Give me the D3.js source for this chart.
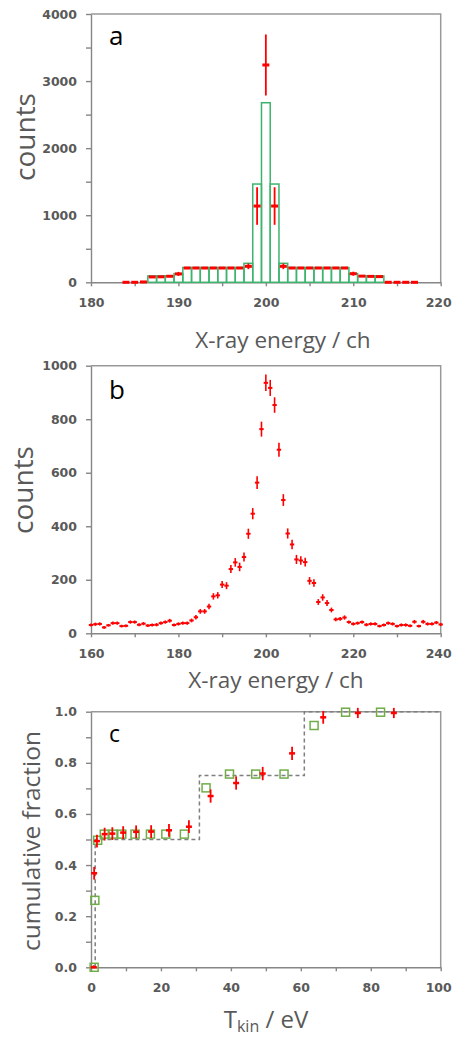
<!DOCTYPE html>
<html lang="en">
<head>
<meta charset="UTF-8">
<title>X-ray energy spectra and cumulative fraction</title>
<script src="https://d3js.org/d3.v7.min.js"></script>
<style>
    body { margin: 0; background: #fff; }
    .tick text { font-family: "DejaVu Sans", sans-serif; font-weight: bold; font-size: 12.5px; fill: #595959; }
    .tick line, .domain { stroke: #868686; stroke-width: 1.4; }
    .title { font-family: "Open Sans", sans-serif; fill: #595959; }
    .letter { font-family: "Open Sans", sans-serif; fill: #000; }
</style>
</head>
<body>
<div id="chart"></div>
<script>
    // ---- panel a: measured counts (red) and simulated histogram (green)
    const aChannels = [184, 185, 186, 187, 188, 189, 190, 191, 192, 193, 194, 195, 196, 197, 198, 199, 200,
        201, 202, 203, 204, 205, 206, 207, 208, 209, 210, 211, 212, 213, 214, 215, 216, 217];
    const aCounts = [0, 0, 5, 80, 82, 90, 125, 213, 213, 213, 213, 213, 213, 213, 238, 1137, 3240,
        1137, 238, 213, 213, 213, 213, 213, 213, 213, 128, 92, 88, 85, 0, 0, 0, 0];
    const aErr = [5, 10, 10, 10, 10, 10, 30, 8, 8, 8, 8, 8, 8, 8, 42, 280, 455,
        280, 42, 8, 8, 8, 8, 8, 8, 8, 30, 10, 10, 10, 5, 5, 5, 5];
    const aBins = [187, 188, 189, 190, 191, 192, 193, 194, 195, 196, 197, 198, 199, 200,
        201, 202, 203, 204, 205, 206, 207, 208, 209, 210, 211, 212, 213];
    const aBinCounts = [95, 95, 95, 130, 220, 220, 220, 220, 220, 220, 220, 283, 1465, 2677,
        1465, 283, 220, 220, 220, 220, 220, 220, 220, 130, 95, 95, 95];

    // ---- panel b: measured spectrum
    const bChannels = d3.range(160, 241);
    const bCounts = [31, 34, 35, 22, 30, 38, 38, 27, 28, 42, 42, 32, 36, 29, 31, 32, 38, 42, 47, 31,
        35, 38, 38, 48, 60, 82, 82, 100, 138, 142, 182, 178, 240, 265, 248, 285, 372, 447, 563, 763,
        936, 917, 853, 686, 498, 373, 332, 276, 272, 266, 196, 188, 117, 134, 113, 87, 52, 54, 59, 42,
        35, 38, 42, 32, 35, 35, 27, 31, 38, 35, 27, 31, 31, 28, 43, 27, 43, 35, 35, 40, 33];
    const bErr = [6, 6, 6, 5, 5, 6, 6, 5, 5, 6, 6, 6, 6, 5, 6, 6, 6, 6, 7, 6,
        6, 6, 6, 7, 8, 9, 9, 10, 12, 12, 13, 13, 15, 16, 16, 17, 19, 21, 24, 28,
        31, 30, 29, 26, 22, 19, 18, 17, 16, 16, 14, 14, 11, 12, 11, 9, 7, 7, 8, 6,
        6, 6, 6, 6, 6, 6, 5, 6, 6, 6, 5, 6, 6, 5, 7, 5, 7, 6, 6, 6, 6];

    // ---- panel c: cumulative fraction vs kinetic energy
    const cSimT = [0.9, 1.1, 1.9, 3.8, 6.3, 8.8, 12.6, 17.0, 21.4, 26.7, 32.9, 39.6, 47.1, 55.2, 63.8, 72.8, 82.8];
    const cSimF = [0.0, 0.262, 0.497, 0.521, 0.521, 0.521, 0.521, 0.521, 0.521, 0.521, 0.702, 0.756, 0.756, 0.756, 0.946, 0.998, 0.998];
    const cExpT = [0.8, 0.9, 1.7, 3.9, 6.1, 9.2, 12.9, 17.2, 22.3, 28.0, 34.2, 41.5, 49.1, 57.5, 66.4, 76.3, 86.6];
    const cExpF = [0.0, 0.368, 0.494, 0.521, 0.523, 0.527, 0.53, 0.531, 0.536, 0.55, 0.670, 0.721, 0.758, 0.837, 0.978, 0.995, 0.995];
    const cExpErr = [0.008, 0.025, 0.025, 0.025, 0.025, 0.025, 0.025, 0.025, 0.025, 0.025, 0.026, 0.026, 0.026, 0.026, 0.025, 0.02, 0.02];
    const stepT = [1.2, 1.2, 31, 31, 61, 61, 100];
    const stepF = [0, 0.5, 0.5, 0.75, 0.75, 1, 1];

    const red = "#ff0000", green = "#3cb46e", lightGreen = "#70ad47";

    const svg = d3.select("#chart").append("svg")
        .attr("width", 453)
        .attr("height", 1039)
        .style("display", "block");

    // draws axes + frame, returns scales and group
    function panel(opt) {
        const x = d3.scaleLinear().domain(opt.xDomain).range([91, 440.7]);
        const y = d3.scaleLinear().domain(opt.yDomain).range([opt.bottom, opt.top]);
        const g = svg.append("g");

        // frame (top and right)
        g.append("path")
            .attr("d", `M${x.range()[0]},${opt.top}H${x.range()[1]}V${opt.bottom}`)
            .attr("fill", "none")
            .attr("stroke", "#999")
            .attr("stroke-width", 1.5);

        const xAxis = g.append("g")
            .attr("transform", `translate(0,${opt.bottom})`)
            .call(d3.axisBottom(x).tickValues(opt.xTicks).tickSize(4).tickPadding(12).tickSizeOuter(0)
                .tickFormat(d => opt.xLabels.includes(d) ? d : ""));
        // last label sits at the right edge of the page, nudge it in a little
        xAxis.selectAll(".tick text")
            .filter(d => d === opt.xDomain[1])
            .attr("dx", -2.5);

        g.append("g")
            .attr("transform", "translate(91,0)")
            .call(d3.axisLeft(y).tickValues(opt.yTicks).tickSize(5).tickPadding(9).tickSizeOuter(0)
                .tickFormat(d => opt.yLabels.some(v => Math.abs(v - d) < 1e-9) ? opt.yFmt(d) : ""));

        g.append("text")
            .attr("class", "title")
            .attr("x", opt.xTitleX)
            .attr("y", opt.xTitleY)
            .attr("text-anchor", "middle")
            .style("font-size", "22.5px")
            .text(opt.xTitle);

        g.append("text")
            .attr("class", "title")
            .attr("transform", `translate(${opt.yTitleX},${opt.yTitleY}) rotate(-90)`)
            .attr("text-anchor", "middle")
            .style("font-size", opt.yTitleSize)
            .text(opt.yTitle);

        g.append("text")
            .attr("class", "letter")
            .attr("x", 109)
            .attr("y", opt.letterY)
            .style("font-size", opt.letterSize)
            .text(opt.letter);

        return {x, y, g};
    }

    // ---------------- panel a
    const A = panel({
        xDomain: [180, 220], yDomain: [0, 4000], top: 14, bottom: 282.3,
        xTicks: d3.range(180, 221, 5), xLabels: [180, 190, 200, 210, 220],
        yTicks: d3.range(0, 4001, 500), yLabels: [0, 1000, 2000, 3000, 4000], yFmt: d => d,
        xTitle: "X-ray energy  / ch", xTitleX: 283, xTitleY: 348,
        yTitle: "counts", yTitleX: 35, yTitleY: 137, yTitleSize: "28px",
        letter: "a", letterY: 45, letterSize: "26px"
    });

    A.g.append("g").selectAll("rect")
        .data(aBins)
        .join("rect")
        .attr("x", d => A.x(d - 0.5))
        .attr("width", A.x(181) - A.x(180))
        .attr("y", (d, i) => A.y(aBinCounts[i]))
        .attr("height", (d, i) => A.y(0) - A.y(aBinCounts[i]))
        .attr("fill", "none")
        .attr("stroke", green)
        .attr("stroke-width", 1.5);

    const aPts = A.g.append("g").selectAll("g")
        .data(aChannels)
        .join("g");
    aPts.append("line")
        .attr("x1", d => A.x(d)).attr("x2", d => A.x(d))
        .attr("y1", (d, i) => A.y(aCounts[i] + aErr[i]))
        .attr("y2", (d, i) => A.y(Math.max(0, aCounts[i] - aErr[i])))
        .attr("stroke", red).attr("stroke-width", 1.8);
    aPts.append("line")
        .attr("x1", d => A.x(d - 0.4)).attr("x2", d => A.x(d + 0.4))
        .attr("y1", (d, i) => A.y(aCounts[i]))
        .attr("y2", (d, i) => A.y(aCounts[i]))
        .attr("stroke", red).attr("stroke-width", 3);

    // ---------------- panel b
    const B = panel({
        xDomain: [160, 240], yDomain: [0, 1000], top: 365.7, bottom: 633.3,
        xTicks: d3.range(160, 241, 10), xLabels: [160, 180, 200, 220, 240],
        yTicks: d3.range(0, 1001, 200), yLabels: d3.range(0, 1001, 200), yFmt: d => d,
        xTitle: "X-ray energy / ch", xTitleX: 276, xTitleY: 688,
        yTitle: "counts", yTitleX: 33, yTitleY: 490, yTitleSize: "28px",
        letter: "b", letterY: 399, letterSize: "26px"
    });

    const bPts = B.g.append("g").selectAll("g")
        .data(bChannels)
        .join("g");
    bPts.append("line")
        .attr("x1", d => B.x(d)).attr("x2", d => B.x(d))
        .attr("y1", (d, i) => B.y(bCounts[i] + bErr[i]))
        .attr("y2", (d, i) => B.y(bCounts[i] - bErr[i]))
        .attr("stroke", red).attr("stroke-width", 1.6);
    bPts.append("line")
        .attr("x1", d => B.x(d - 0.5)).attr("x2", d => B.x(d + 0.5))
        .attr("y1", (d, i) => B.y(bCounts[i]))
        .attr("y2", (d, i) => B.y(bCounts[i]))
        .attr("stroke", red).attr("stroke-width", 2);

    // ---------------- panel c
    const C = panel({
        xDomain: [0, 100], yDomain: [0, 1], top: 711.7, bottom: 967.3,
        xTicks: d3.range(0, 101, 10), xLabels: [0, 20, 40, 60, 80, 100],
        yTicks: d3.range(0, 11).map(d => d / 10), yLabels: [0, 0.2, 0.4, 0.6, 0.8, 1.0], yFmt: d3.format(".1f"),
        xTitle: "", xTitleX: 266, xTitleY: 1028,
        yTitle: "cumulative fraction", yTitleX: 40, yTitleY: 841, yTitleSize: "24.5px",
        letter: "c", letterY: 742, letterSize: "23px"
    });

    const tTitle = C.g.append("text")
        .attr("class", "title")
        .attr("x", 266)
        .attr("y", 1028)
        .attr("text-anchor", "middle")
        .style("font-size", "24px");
    tTitle.append("tspan").text("T");
    tTitle.append("tspan").attr("dy", 4).style("font-size", "16px").text("kin");
    tTitle.append("tspan").attr("dy", -4).text(" / eV");

    C.g.append("path")
        .datum(stepT.map((t, i) => [t, stepF[i]]))
        .attr("d", d3.line().x(d => C.x(d[0])).y(d => C.y(d[1])))
        .attr("fill", "none")
        .attr("stroke", "#7f7f7f")
        .attr("stroke-width", 1.5)
        .attr("stroke-dasharray", "4,3");

    C.g.append("g").selectAll("rect")
        .data(cSimT)
        .join("rect")
        .attr("x", d => C.x(d) - 4)
        .attr("y", (d, i) => C.y(cSimF[i]) - 4)
        .attr("width", 8)
        .attr("height", 8)
        .attr("fill", "none")
        .attr("stroke", lightGreen)
        .attr("stroke-width", 1.5);

    const cPts = C.g.append("g").selectAll("g")
        .data(cExpT)
        .join("g");
    cPts.append("line")
        .attr("x1", d => C.x(d)).attr("x2", d => C.x(d))
        .attr("y1", (d, i) => C.y(cExpF[i] + cExpErr[i]))
        .attr("y2", (d, i) => C.y(Math.max(0, cExpF[i] - cExpErr[i])))
        .attr("stroke", red).attr("stroke-width", 1.8);
    cPts.append("line")
        .attr("x1", d => C.x(d) - 3).attr("x2", d => C.x(d) + 3)
        .attr("y1", (d, i) => C.y(cExpF[i]))
        .attr("y2", (d, i) => C.y(cExpF[i]))
        .attr("stroke", red).attr("stroke-width", 2.5);
</script>
</body>
</html>
